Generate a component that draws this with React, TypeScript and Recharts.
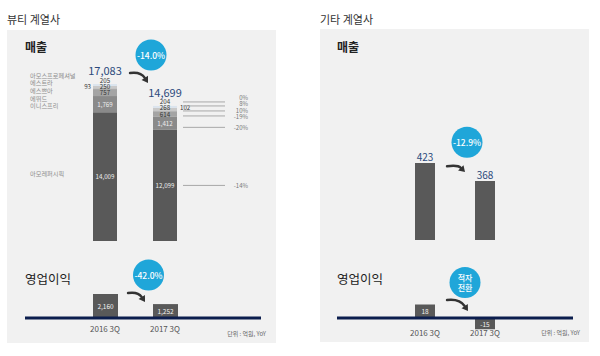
import { Bar, BarChart, LabelList, ReferenceLine, XAxis, YAxis } from "recharts";

// values (억원)
const periods = ["2016 3Q", "2017 3Q"];
const beautyBrands = ["아모스프로페셔널", "에스트라", "에스쁘아", "에뛰드", "이니스프리", "아모레퍼시픽"];
const amosSales = [205, 204];
const aestraSales = [250, 268];
const espoirSales = [93, 102];
const etudeSales = [757, 614];
const innisfreeSales = [1769, 1412];
const amoreSales = [14009, 12099];
const brandYoy = ["0%", "8%", "10%", "-19%", "-20%", "-14%"];
const beautyProfit = [2160, 1252];
const otherSales = [423, 368];
const otherProfit = [18, -15];
const beautySalesChange = ["-14.0%"];
const beautyProfitChange = ["-42.0%"];
const otherSalesChange = ["-12.9%"];
const otherProfitChange = ["적자", "전환"];

// top-to-bottom order of the stack
const brandSales = [amosSales, aestraSales, espoirSales, etudeSales, innisfreeSales, amoreSales];
const brandKeys = ["amos", "aestra", "espoir", "etude", "innisfree", "amore"];
const brandFills = ["#dbe4ee", "#c9c9c9", "#b6b6b6", "#a4a4a4", "#8a8a8a", "#595959"];
const brandText = ["#333", "#333", "#333", "#333", "#eee", "#eee"];

const beautyRows = periods.map((period, i) => {
  const row: Record<string, string | number> = { period };
  brandKeys.forEach((k, s) => {
    row[k] = brandSales[s][i];
  });
  return row;
});
const beautyProfitRows = periods.map((period, i) => ({ period, value: beautyProfit[i] }));
const otherSalesRows = periods.map((period, i) => ({ period, value: otherSales[i] }));
const otherProfitRows = periods.map((period, i) => ({ period, value: otherProfit[i] }));

const NAVY = "#0c1e4e";
const BUBBLE = "#1fa6d9";
const BAR = "#595959";
const TOTAL_COLOR = "#2c4a7c";
const BAND = 60;

const fmt = (v: number) => v.toLocaleString("en-US");

function boxOf(p: any) {
  const vb = p.viewBox && typeof p.viewBox.x === "number" ? p.viewBox : p;
  const y = Number(vb.y);
  const h = Number(vb.height);
  return { x: Number(vb.x), w: Number(vb.width), top: Math.min(y, y + h), h: Math.abs(h) };
}

function Bubble({ cx, cy, lines, r = 15.5 }: { cx: number; cy: number; lines: string[]; r?: number }) {
  return (
    <g>
      <circle cx={cx} cy={cy} r={r} fill={BUBBLE} />
      {lines.map((t, i) => (
        <text
          key={t}
          x={cx}
          y={cy + (i - (lines.length - 1) / 2) * 10}
          textAnchor="middle"
          dominantBaseline="central"
          fill="#fff"
          fontSize={lines.length > 1 ? 8 : 8.5}
          fontWeight={500}
        >
          {t}
        </text>
      ))}
    </g>
  );
}

function CurveArrow({ sx, sy, ex, ey }: { sx: number; sy: number; ex: number; ey: number }) {
  const cx = sx + (ex - sx) * 0.6;
  const cy = sy - 1.5;
  const ang = Math.atan2(ey - cy, ex - cx);
  const hl = 6;
  const hw = 3.8;
  const bx = ex - hl * Math.cos(ang);
  const by = ey - hl * Math.sin(ang);
  const nx = -Math.sin(ang);
  const ny = Math.cos(ang);
  return (
    <g>
      <path d={`M${sx},${sy} Q${cx},${cy} ${bx},${by}`} fill="none" stroke="#333" strokeWidth={2.4} strokeLinecap="round" />
      <polygon points={`${ex},${ey} ${bx + nx * hw},${by + ny * hw} ${bx - nx * hw},${by - ny * hw}`} fill="#333" />
    </g>
  );
}

const valueRow = [-4, 2, 2, 8.5];
const lineRow = [-4, 0, 5, 10];
const pctRow = [-8, -2, 4.5, 10.5];

function stackLabel(s: number) {
  return (p: any) => {
    const i: number = p.index;
    const { x, w, top: y, h } = boxOf(p);
    const vals = brandSales.map((a) => a[i]);
    const k = h / vals[s];
    const above = vals.slice(0, s).reduce((a, b) => a + b, 0);
    const barTop = y - above * k;
    const center = y + h / 2;

    let vx = x + w / 2;
    const vy = s <= 3 ? barTop + valueRow[s] : center;
    let anchor: "middle" | "start" | "end" = "middle";
    if (s === 2) {
      vx = i === 0 ? x - 2 : x + w + 3;
      anchor = i === 0 ? "end" : "start";
    }
    const parts: any[] = [
      <text key="v" x={vx} y={vy} textAnchor={anchor} dominantBaseline="central" fontSize={6.2} fill={s === 2 ? "#333" : brandText[s]}>
        {fmt(vals[s])}
      </text>,
    ];

    if (i === 0) {
      const ny = s < 5 ? barTop - 9 + s * 7.7 : center - 3;
      parts.push(
        <text key="n" x={x - 63} y={ny} dominantBaseline="central" fontSize={6.2} fill="#8c8c8c">
          {beautyBrands[s]}
        </text>
      );
    }

    if (i === 1) {
      const ly = s < 4 ? barTop + lineRow[s] : s === 4 ? center + 4 : center;
      const ty = s < 4 ? barTop + pctRow[s] : ly;
      parts.push(
        <line key="l" x1={x + w + 6} x2={x + w + 48} y1={ly} y2={ly} stroke="#a8a8a8" strokeWidth={1} />,
        <text key="p" x={x + w + 71} y={ty} textAnchor="end" dominantBaseline="central" fontSize={6} fill="#777">
          {brandYoy[s]}
        </text>
      );
    }

    if (s === 0) {
      const totals = periods.map((_, j) => brandSales.reduce((a, arr) => a + arr[j], 0));
      parts.push(
        <text key="t" x={x + w / 2} y={barTop - 9} textAnchor="middle" fontSize={11} fill={TOTAL_COLOR}>
          {fmt(totals[i])}
        </text>
      );
      if (i === 1) {
        const base = barTop + totals[1] * k;
        const top0 = base - totals[0] * k;
        parts.push(
          <CurveArrow key="a" sx={x - BAND + w + 13} sy={top0 - 11} ex={x - 5} ey={barTop - 23} />,
          <Bubble key="b" cx={x + w / 2 - 14} cy={top0 - 29} lines={beautySalesChange} />
        );
      }
    }
    return <g>{parts}</g>;
  };
}

function simpleLabel(
  values: number[],
  opt: {
    inside: boolean;
    change: string[];
    bubble: (x: number, w: number, top0: number) => [number, number];
    arrow: (x: number, w: number, top0: number, top1: number, base: number) => [number, number, number, number];
  }
) {
  return (p: any) => {
    const i: number = p.index;
    const { x, w, top, h } = boxOf(p);
    const v = values[i];
    const k = h / Math.abs(v);
    const base = v >= 0 ? top + h : top;
    const top0 = base - values[0] * k;
    const top1 = base - values[1] * k;
    const parts: any[] = [];
    if (opt.inside) {
      parts.push(
        <text key="v" x={x + w / 2} y={top + h / 2} textAnchor="middle" dominantBaseline="central" fontSize={6.5} fill="#f2f2f2">
          {fmt(v)}
        </text>
      );
    } else {
      parts.push(
        <text key="v" x={x + w / 2} y={top - 2.5} textAnchor="middle" fontSize={10} fill={TOTAL_COLOR}>
          {fmt(v)}
        </text>
      );
    }
    if (i === 1) {
      const [bx, by] = opt.bubble(x, w, top0);
      const [sx, sy, ex, ey] = opt.arrow(x, w, top0, top1, base);
      parts.push(<CurveArrow key="a" sx={sx} sy={sy} ex={ex} ey={ey} />, <Bubble key="b" cx={bx} cy={by} lines={opt.change} />);
    }
    return <g>{parts}</g>;
  };
}

const beautyProfitLabel = simpleLabel(beautyProfit, {
  inside: true,
  change: beautyProfitChange,
  bubble: (x, w, top0) => [x + w / 2 - 17, top0 - 19],
  arrow: (x, w, top0, top1) => [x - BAND + w + 10, top0 - 1, x - 8, top1 - 2],
});
const otherSalesLabel = simpleLabel(otherSales, {
  inside: false,
  change: otherSalesChange,
  bubble: (x, w, top0) => [x + w / 2 - 18, top0 - 30],
  arrow: (x, w, top0, top1) => [x - BAND + w + 12, top0 - 6, x - 10, top1 - 9],
});
const otherProfitLabel = simpleLabel(otherProfit, {
  inside: true,
  change: otherProfitChange,
  bubble: (x, w, top0) => [x + w / 2 - 20, top0 - 22],
  arrow: (x, w, top0, _t1, base) => [x - BAND + w + 12, top0 - 4.5, x - 7, base - 7],
});

const abs = (left: number, top: number): React.CSSProperties => ({ position: "absolute", left, top });
const tickStyle = { fontSize: 8, fill: "#555" };

export default function App() {
  return (
    <div
      style={{
        position: "absolute",
        left: 0,
        top: 0,
        width: 600,
        height: 356,
        background: "#fff",
        overflow: "hidden",
        fontFamily: '"Noto Sans CJK KR", "Noto Sans", sans-serif',
        color: "#222",
      }}
    >
      <div style={{ ...abs(7, 30), width: 269, height: 313, background: "#f1f1f1" }} />
      <div style={{ ...abs(320, 29), width: 269, height: 313, background: "#f1f1f1" }} />

      <div style={{ ...abs(7, 12), fontSize: 11, lineHeight: "14px", color: "#333" }}>뷰티 계열사</div>
      <div style={{ ...abs(320, 12), fontSize: 11, lineHeight: "14px", color: "#333" }}>기타 계열사</div>
      <div style={{ ...abs(25, 39), fontSize: 12, fontWeight: 700, lineHeight: "16px" }}>매출</div>
      <div style={{ ...abs(337, 39), fontSize: 12, fontWeight: 700, lineHeight: "16px" }}>매출</div>
      <div style={{ ...abs(25, 270), fontSize: 12.5, lineHeight: "18px" }}>영업이익</div>
      <div style={{ ...abs(337, 270), fontSize: 12.5, lineHeight: "18px" }}>영업이익</div>
      <div style={{ position: "absolute", right: 334, top: 330, fontSize: 6, lineHeight: "8px", color: "#666" }}>단위 : 억원, YoY</div>
      <div style={{ position: "absolute", right: 20, top: 329, fontSize: 6, lineHeight: "8px", color: "#666" }}>단위 : 억원, YoY</div>

      {/* beauty sales (stacked by brand) */}
      <div style={abs(0, 0)}>
        <BarChart width={300} height={260} data={beautyRows} margin={{ top: 60, right: 39, bottom: 19, left: 25 }}>
          <XAxis dataKey="period" height={0} tick={false} tickLine={false} padding={{ left: 50, right: 66 }} axisLine={{ stroke: NAVY, strokeWidth: 4 }} />
          <YAxis hide domain={[0, 19700]} />
          {[5, 4, 3, 2, 1, 0].map((s) => (
            <Bar key={brandKeys[s]} dataKey={brandKeys[s]} stackId="sales" fill={brandFills[s]} barSize={24} isAnimationActive={false}>
              <LabelList dataKey={brandKeys[s]} content={stackLabel(s)} />
            </Bar>
          ))}
        </BarChart>
      </div>

      {/* beauty operating profit */}
      <div style={abs(0, 258)}>
        <BarChart width={300} height={92} data={beautyProfitRows} margin={{ top: 10, right: 39, bottom: 12, left: 25 }}>
          <XAxis dataKey="period" height={20} tickLine={false} tick={tickStyle} padding={{ left: 50, right: 66 }} axisLine={{ stroke: NAVY, strokeWidth: 3 }} />
          <YAxis hide domain={[0, 4500]} />
          <Bar dataKey="value" fill={BAR} barSize={25} isAnimationActive={false}>
            <LabelList dataKey="value" content={beautyProfitLabel} />
          </Bar>
        </BarChart>
      </div>

      {/* other affiliates sales */}
      <div style={abs(300, 0)}>
        <BarChart width={300} height={260} data={otherSalesRows} margin={{ top: 60, right: 27, bottom: 20, left: 37 }}>
          <XAxis dataKey="period" height={0} tick={false} tickLine={false} padding={{ left: 58, right: 58 }} axisLine={{ stroke: NAVY, strokeWidth: 4 }} />
          <YAxis hide domain={[188, 738]} />
          <Bar dataKey="value" fill={BAR} barSize={20} isAnimationActive={false}>
            <LabelList dataKey="value" content={otherSalesLabel} />
          </Bar>
        </BarChart>
      </div>

      {/* other affiliates operating profit */}
      <div style={abs(300, 258)}>
        <BarChart width={300} height={92} data={otherProfitRows} margin={{ top: 10, right: 27, bottom: 4, left: 37 }}>
          <XAxis dataKey="period" height={16} axisLine={false} tickLine={false} tickSize={0} tickMargin={0} tick={tickStyle} padding={{ left: 58, right: 58 }} />
          <YAxis hide domain={[-16, 66.67]} />
          <ReferenceLine y={0} stroke={NAVY} strokeWidth={3} />
          <Bar dataKey="value" fill={BAR} barSize={20} isAnimationActive={false}>
            <LabelList dataKey="value" content={otherProfitLabel} />
          </Bar>
        </BarChart>
      </div>
    </div>
  );
}
